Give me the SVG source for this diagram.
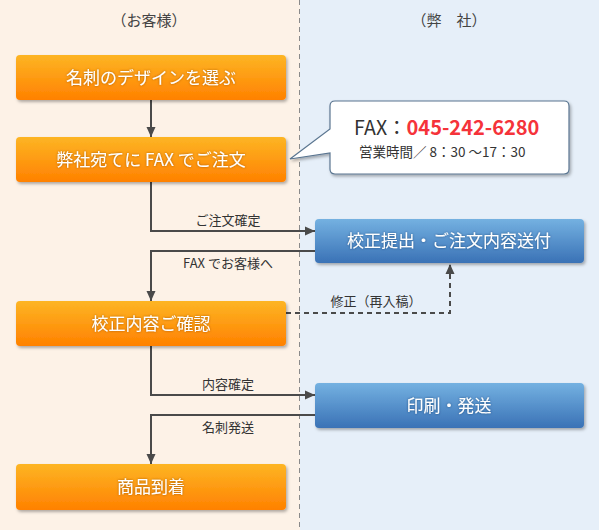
<svg xmlns="http://www.w3.org/2000/svg" width="599" height="530" viewBox="0 0 599 530">
<defs>
<linearGradient id="og" x1="0" y1="0" x2="0" y2="1">
<stop offset="0" stop-color="#fdb524"/><stop offset="1" stop-color="#ff8100"/>
</linearGradient>
<linearGradient id="bg" x1="0" y1="0" x2="0" y2="1">
<stop offset="0" stop-color="#74b1e1"/><stop offset="1" stop-color="#3a72b6"/>
</linearGradient>
<filter id="sh" x="-10%" y="-20%" width="120%" height="150%">
<feDropShadow dx="1.5" dy="2" stdDeviation="1.5" flood-color="#000" flood-opacity="0.3"/>
</filter>
<filter id="ts" x="-5%" y="-20%" width="110%" height="140%">
<feDropShadow dx="0" dy="0" stdDeviation="0.8" flood-color="#6a3500" flood-opacity="0.6"/>
</filter>
<filter id="tsb" x="-5%" y="-20%" width="110%" height="140%">
<feDropShadow dx="0" dy="0" stdDeviation="0.8" flood-color="#0a2a55" flood-opacity="0.6"/>
</filter>
<marker id="ah" viewBox="0 0 10 10" refX="10" refY="5" markerWidth="11" markerHeight="10" markerUnits="userSpaceOnUse" orient="auto">
<path d="M0,0.5 L10,5 L0,9.5 z" fill="#4a4a4a"/>
</marker>
</defs>
<style>
text{font-family:"Noto Sans CJK JP","Noto Sans",sans-serif}
.bt{fill:#fff;font-size:17px;text-anchor:middle}
.lb{fill:#333;font-size:13px;text-anchor:middle}
.hd{fill:#444;font-size:15px;text-anchor:middle}
.ln{fill:none;stroke:#4a4a4a;stroke-width:2}
</style>
<rect x="0" y="0" width="300" height="530" fill="#fdf2e7"/>
<rect x="300" y="0" width="299" height="530" fill="#e6eff9"/>
<line x1="299.5" y1="0" x2="299.5" y2="530" stroke="#8a8a8a" stroke-width="1" stroke-dasharray="5,4"/>
<text class="hd" x="149" y="26">（お客様）</text>
<text class="hd" x="449" y="26">（弊　社）</text>

<g id="connectors">
<path class="ln" d="M151,100 V137" marker-end="url(#ah)"/>
<path class="ln" d="M151,182 V231 H315" marker-end="url(#ah)"/>
<text class="lb" x="228" y="225">ご注文確定</text>
<path class="ln" d="M315,251 H151 V301" marker-end="url(#ah)"/>
<text class="lb" x="228" y="268">FAX でお客様へ</text>
<path class="ln" d="M286,313 H450 V264" stroke-dasharray="5,4" marker-end="url(#ah)"/>
<text class="lb" x="376" y="306">修正（再入稿）</text>
<path class="ln" d="M151,346 V395 H315" marker-end="url(#ah)"/>
<text class="lb" x="228" y="389">内容確定</text>
<path class="ln" d="M315,415 H151 V464" marker-end="url(#ah)"/>
<text class="lb" x="228" y="432">名刺発送</text>
</g>

<g id="n1">
<rect x="16" y="55" width="270" height="45" rx="4" fill="url(#og)" filter="url(#sh)"/>
<text class="bt" x="151" y="84" filter="url(#ts)">名刺のデザインを選ぶ</text>
</g>
<g id="n2">
<rect x="16" y="137" width="270" height="45" rx="4" fill="url(#og)" filter="url(#sh)"/>
<text class="bt" x="151" y="166" filter="url(#ts)">弊社宛てに FAX でご注文</text>
</g>
<g id="callout">
<path d="M335,101 H564 Q569,101 569,106 V169 Q569,174 564,174 H335 Q330,174 330,169 V153 L290,159 L330,129 V106 Q330,101 335,101 Z" fill="#fff" stroke="#5a7590" stroke-width="1.2" filter="url(#sh)"/>
<text x="354" y="135" font-size="19.5" fill="#333">FAX：<tspan fill="#f5333a" font-weight="bold" font-size="20">045-242-6280</tspan></text>
<text x="359" y="157" font-size="13.5" fill="#333">営業時間／ 8：30 ～17：30</text>
</g>
<g id="n3">
<rect x="315" y="219" width="269" height="44" rx="4" fill="url(#bg)" filter="url(#sh)"/>
<text class="bt" x="449" y="247" filter="url(#tsb)">校正提出・ご注文内容送付</text>
</g>
<g id="n4">
<rect x="16" y="301" width="270" height="45" rx="4" fill="url(#og)" filter="url(#sh)"/>
<text class="bt" x="151" y="330" filter="url(#ts)">校正内容ご確認</text>
</g>
<g id="n5">
<rect x="315" y="383" width="269" height="45" rx="4" fill="url(#bg)" filter="url(#sh)"/>
<text class="bt" x="449" y="412" filter="url(#tsb)">印刷・発送</text>
</g>
<g id="n6">
<rect x="16" y="464" width="270" height="46" rx="4" fill="url(#og)" filter="url(#sh)"/>
<text class="bt" x="151" y="493" filter="url(#ts)">商品到着</text>
</g>
</svg>
